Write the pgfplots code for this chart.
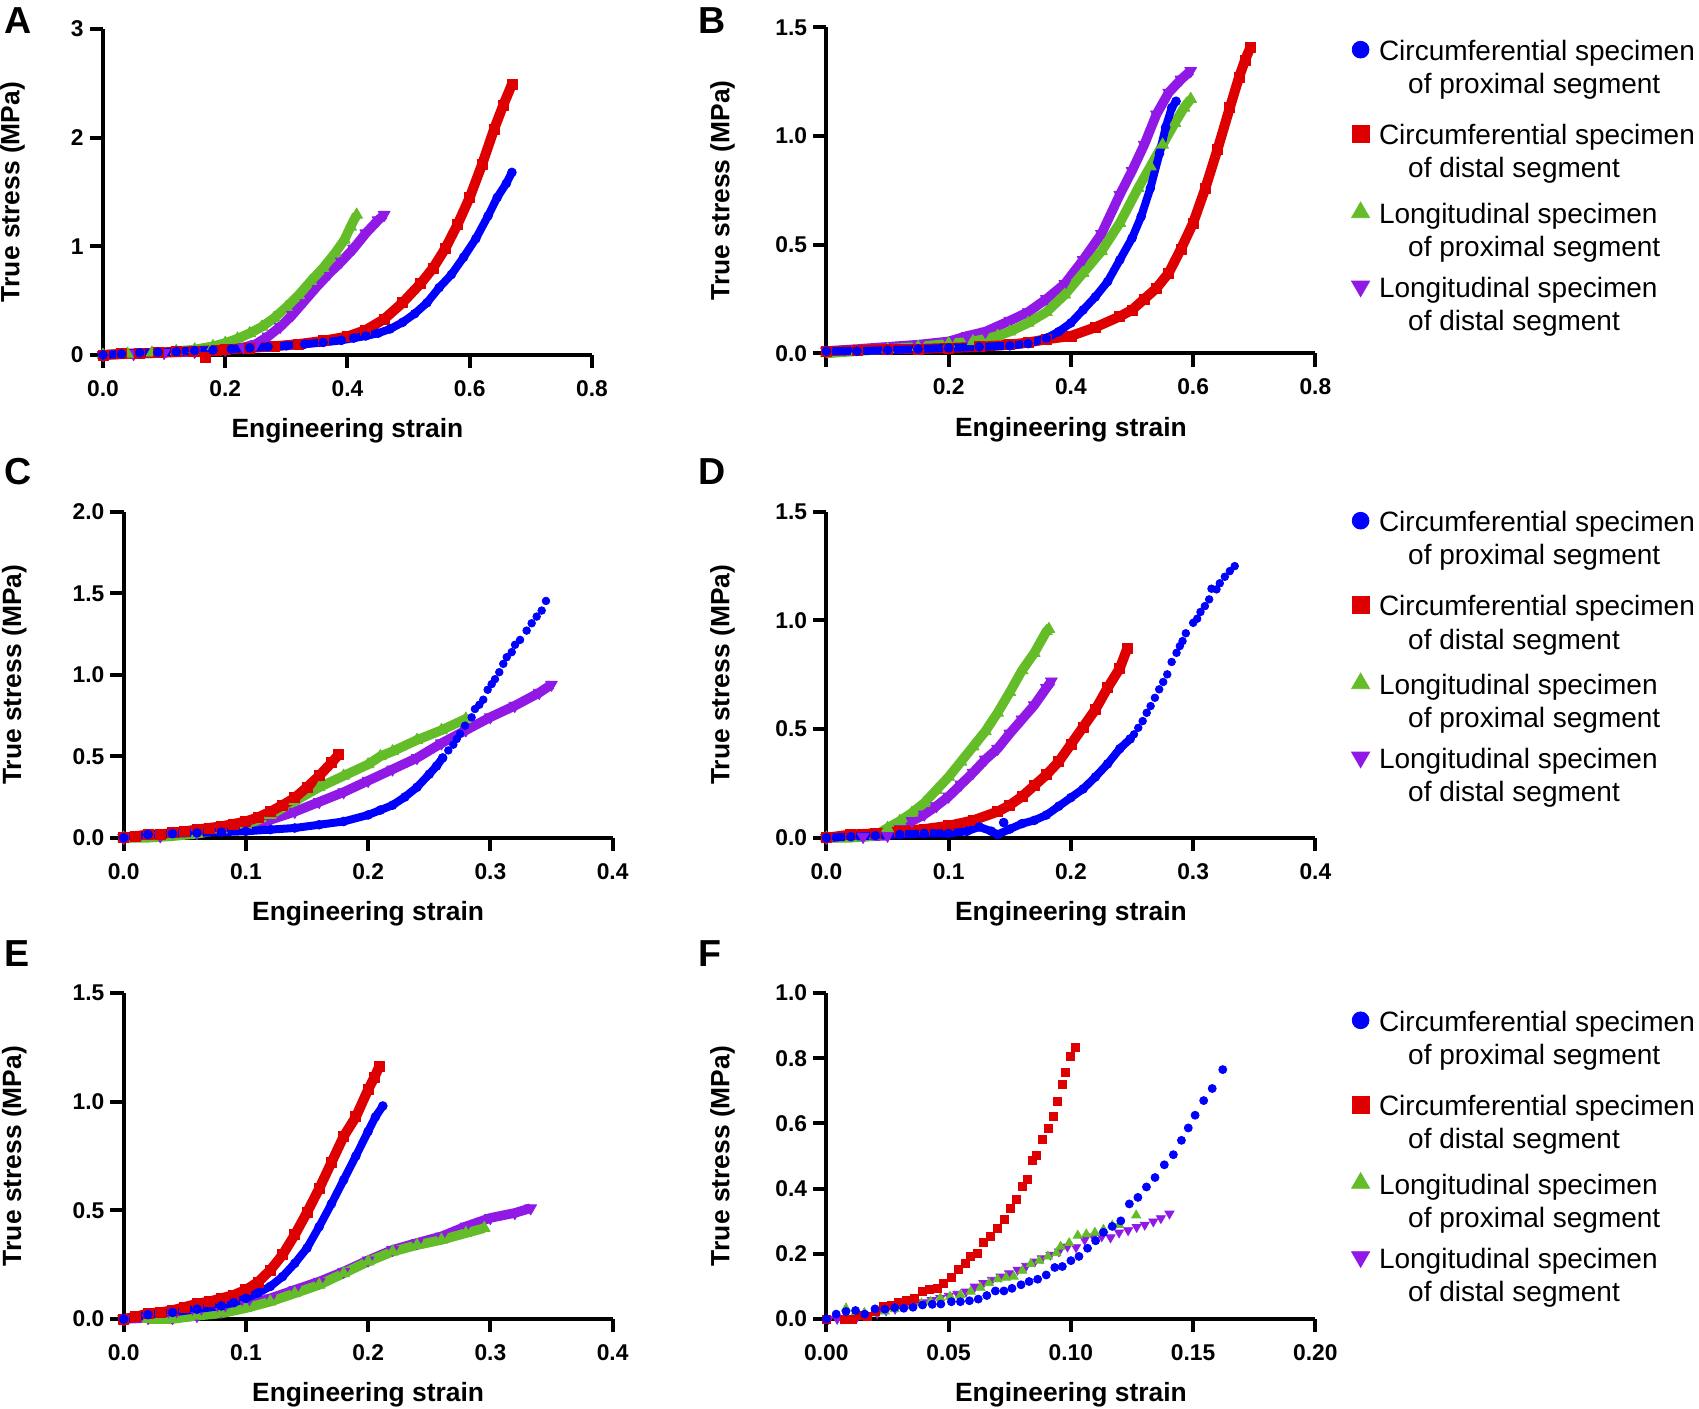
\documentclass[border=0pt]{standalone}
\usepackage{fontspec}
\setmainfont{Liberation Sans}
\usepackage{pgfplots}
\pgfplotsset{compat=1.18}
\definecolor{cblue}{RGB}{0,0,255}
\definecolor{cred}{RGB}{222,0,0}
\definecolor{cgreen}{RGB}{100,188,40}
\definecolor{cpurple}{RGB}{145,25,230}
\newcommand{\tickfont}{\fontsize{5.7}{6.5}\selectfont\bfseries}
\newcommand{\labfont}{\fontsize{6.6}{7.9}\selectfont\bfseries}
\newcommand{\legfont}{\fontsize{7}{8.1}\selectfont}
\newcommand{\letfont}{\fontsize{9.4}{11}\selectfont\bfseries}
\newcommand{\fl}{\rule[-1.1pt]{0pt}{8.1pt}}
\newcommand{\secl}[1]{\rule[-#1]{0pt}{\dimexpr 6.8pt+#1\relax}\hspace*{7.3pt}}
\pgfplotsset{
 panel/.style={scale only axis, width=122.25pt, height=81.5pt, anchor=south west,
   axis lines=left, axis line style={-, line width=1pt, black},
   tick align=outside, major tick length=3.3pt,
   major tick style={line width=1pt, black},
   ticklabel style={font=\tickfont, black},
   xticklabel style={yshift=0.5pt},
   yticklabel style={xshift=2pt},
   xlabel={Engineering strain}, ylabel={True stress (MPa)},
   label style={font=\labfont},
   xlabel style={at={(ticklabel cs:0.5,-1.3pt)}},
   clip=false},
 dblue/.style={color=cblue, line width=2pt, line join=round, mark=*, mark size=1.1pt, mark options={line width=0.2pt}},
 dred/.style={color=cred, line width=2.5pt, line join=round, mark=square*, mark size=1.25pt, mark options={line width=0.2pt}},
 dgreen/.style={color=cgreen, line width=2.4pt, line join=round, mark=triangle*, mark size=1.7pt, mark options={line width=0.2pt}},
 dpurple/.style={color=cpurple, line width=2.4pt, line join=round, mark=triangle*, mark size=1.7pt, mark options={line width=0.2pt, rotate=180}},
 fblue/.style={color=cblue, only marks, mark=*, mark size=1.0pt, mark options={line width=0.2pt}},
 fred/.style={color=cred, only marks, mark=square*, mark size=1.0pt, mark options={line width=0.2pt}},
 fgreen/.style={color=cgreen, only marks, mark=triangle*, mark size=1.3pt, mark options={line width=0.2pt}},
 fpurple/.style={color=cpurple, only marks, mark=triangle*, mark size=1.3pt, mark options={line width=0.2pt, rotate=180}},
 legmark/.style={only marks, mark options={line width=0.2pt}, legend image code/.code={\draw[##1] plot coordinates {(0pt,0pt)};}},
 lblue/.style={legmark, color=cblue, mark=*, mark size=2.1pt},
 lred/.style={legmark, color=cred, mark=square*, mark size=2.1pt},
 lgreen/.style={legmark, color=cgreen, mark=triangle*, mark size=2.6pt},
 lpurple/.style={legmark, color=cpurple, mark=triangle*, mark size=2.6pt, mark options={line width=0.2pt, rotate=180}},
 legpanel/.style={legend cell align=left, legend style={at={(axis description cs:1,1)}, anchor=north west, xshift=9.05pt, yshift=#1, draw=none, fill=none, inner sep=0pt, outer sep=0pt, row sep=0pt, column sep=2.35pt, nodes={inner sep=0pt, outer sep=0pt, text depth=, text height=}, font=\legfont}},
}
\newcommand{\legblock}{%
\addlegendimage{lblue}\addlegendentry{\fl Circumferential specimen}
\addlegendimage{empty legend}\addlegendentry{\secl{5.8pt}of proximal segment}
\addlegendimage{lred}\addlegendentry{\fl Circumferential specimen}
\addlegendimage{empty legend}\addlegendentry{\secl{4.4pt}of distal segment}
\addlegendimage{lgreen}\addlegendentry{\fl Longitudinal specimen}
\addlegendimage{empty legend}\addlegendentry{\secl{3.2pt}of proximal segment}
\addlegendimage{lpurple}\addlegendentry{\fl Longitudinal specimen}
\addlegendimage{empty legend}\addlegendentry{\secl{1.1pt}of distal segment}}
\begin{document}
\begin{tikzpicture}
\useasboundingbox (0pt,0pt) rectangle (424.75pt,352.25pt);
% ---------------- A ----------------
\begin{axis}[panel, at={(25.75pt,263.5pt)}, xmin=0, xmax=0.8, ymin=0, ymax=3,
  xtick={0,0.2,0.4,0.6,0.8}, xticklabels={0.0,0.2,0.4,0.6,0.8},
  ytick={0,1,2,3}, yticklabels={0,1,2,3},
  ylabel style={at={(ticklabel cs:0.5,4.65pt)}}]
\addplot[dpurple] coordinates {(0,0)(0.05,0.01)(0.1,0.02)(0.15,0.03)(0.2,0.05)(0.23,0.07)(0.25,0.1)(0.27,0.17)(0.29,0.26)(0.31,0.37)(0.33,0.5)(0.35,0.63)(0.37,0.75)(0.39,0.86)(0.41,0.98)(0.43,1.12)(0.45,1.24)(0.46,1.29)};
\addplot[dgreen] coordinates {(0,0)(0.04,0.01)(0.08,0.02)(0.12,0.035)(0.15,0.05)(0.18,0.08)(0.2,0.11)(0.22,0.15)(0.24,0.2)(0.26,0.26)(0.28,0.34)(0.3,0.44)(0.32,0.55)(0.34,0.68)(0.36,0.8)(0.38,0.94)(0.395,1.06)(0.405,1.18)(0.415,1.29)};
\addplot[dred] coordinates {(0,0)(0.03,0.01)(0.06,0.015)(0.09,0.02)(0.12,0.03)(0.15,0.035)(0.185,0.045)(0.2,0.05)(0.24,0.065)(0.28,0.08)(0.32,0.1)(0.36,0.13)(0.4,0.17)(0.43,0.23)(0.46,0.33)(0.49,0.48)(0.52,0.66)(0.54,0.8)(0.56,0.98)(0.58,1.2)(0.6,1.45)(0.62,1.75)(0.64,2.08)(0.655,2.3)(0.669,2.49)};
\addplot[fred, mark size=1.25pt] coordinates {(0.168,-0.02)};
\addplot[dblue] coordinates {(0,0)(0.03,0.01)(0.06,0.02)(0.09,0.025)(0.12,0.03)(0.15,0.04)(0.18,0.045)(0.21,0.055)(0.24,0.065)(0.27,0.075)(0.3,0.085)(0.33,0.1)(0.36,0.115)(0.39,0.135)(0.41,0.155)(0.43,0.175)(0.45,0.2)(0.47,0.24)(0.49,0.3)(0.51,0.38)(0.53,0.48)(0.55,0.62)(0.57,0.74)(0.59,0.9)(0.61,1.07)(0.63,1.28)(0.645,1.45)(0.66,1.58)(0.669,1.68)};
\end{axis}
% ---------------- B ----------------
\begin{axis}[panel, legpanel=-1.35pt, at={(206.6pt,263.9pt)}, xmin=0, xmax=0.8, ymin=0, ymax=1.5,
  xtick={0,0.2,0.4,0.6,0.8}, xticklabels={,0.2,0.4,0.6,0.8},
  ytick={0,0.5,1,1.5}, yticklabels={0.0,0.5,1.0,1.5},
  ylabel style={at={(ticklabel cs:0.5,3.25pt)}}]
\legblock
\addplot[dpurple, forget plot] coordinates {(0,0.01)(0.05,0.02)(0.1,0.03)(0.15,0.04)(0.2,0.055)(0.23,0.08)(0.26,0.1)(0.3,0.15)(0.33,0.19)(0.36,0.25)(0.39,0.32)(0.42,0.43)(0.45,0.55)(0.48,0.73)(0.5,0.84)(0.52,0.96)(0.54,1.1)(0.56,1.2)(0.58,1.26)(0.596,1.3)};
\addplot[dgreen, forget plot] coordinates {(0,0)(0.05,0.01)(0.1,0.02)(0.15,0.03)(0.2,0.045)(0.24,0.055)(0.28,0.08)(0.3,0.1)(0.33,0.14)(0.36,0.19)(0.39,0.27)(0.42,0.37)(0.45,0.47)(0.48,0.6)(0.51,0.76)(0.53,0.86)(0.55,0.96)(0.57,1.06)(0.585,1.13)(0.596,1.17)};
\addplot[dred, forget plot] coordinates {(0,0.01)(0.05,0.015)(0.1,0.02)(0.15,0.02)(0.2,0.025)(0.25,0.03)(0.3,0.04)(0.33,0.05)(0.36,0.065)(0.4,0.08)(0.44,0.12)(0.48,0.17)(0.5,0.2)(0.52,0.25)(0.54,0.3)(0.56,0.37)(0.58,0.48)(0.6,0.6)(0.62,0.76)(0.64,0.94)(0.66,1.13)(0.675,1.27)(0.685,1.35)(0.694,1.41)};
\addplot[dblue, forget plot] coordinates {(0,0.01)(0.05,0.01)(0.1,0.015)(0.15,0.02)(0.2,0.025)(0.25,0.03)(0.3,0.035)(0.33,0.045)(0.36,0.07)(0.38,0.1)(0.4,0.14)(0.42,0.2)(0.44,0.26)(0.46,0.33)(0.48,0.43)(0.5,0.53)(0.515,0.63)(0.53,0.76)(0.545,0.92)(0.555,1.04)(0.565,1.13)(0.572,1.16)};
\end{axis}
% ---------------- C ----------------
\begin{axis}[panel, at={(30.9pt,142.8pt)}, xmin=0, xmax=0.4, ymin=0, ymax=2,
  xtick={0,0.1,0.2,0.3,0.4}, xticklabels={0.0,0.1,0.2,0.3,0.4},
  ytick={0,0.5,1,1.5,2}, yticklabels={0.0,0.5,1.0,1.5,2.0},
  ylabel style={at={(ticklabel cs:0.5,4.65pt)}}]
\addplot[dpurple] coordinates {(0,0)(0.03,0.01)(0.06,0.03)(0.08,0.05)(0.1,0.07)(0.12,0.11)(0.14,0.16)(0.16,0.22)(0.18,0.28)(0.2,0.35)(0.22,0.42)(0.24,0.49)(0.26,0.58)(0.28,0.66)(0.3,0.74)(0.32,0.81)(0.34,0.89)(0.35,0.94)};
\addplot[dgreen] coordinates {(0,0)(0.02,0)(0.04,0.01)(0.06,0.025)(0.08,0.05)(0.1,0.08)(0.12,0.14)(0.14,0.225)(0.16,0.31)(0.18,0.38)(0.2,0.45)(0.21,0.5)(0.22,0.53)(0.24,0.6)(0.26,0.66)(0.28,0.73)};
\addplot[dred] coordinates {(0,0)(0.01,0.01)(0.02,0.02)(0.03,0.02)(0.04,0.03)(0.05,0.04)(0.06,0.05)(0.07,0.06)(0.08,0.07)(0.09,0.085)(0.1,0.1)(0.11,0.125)(0.12,0.16)(0.13,0.2)(0.14,0.245)(0.15,0.31)(0.16,0.38)(0.17,0.46)(0.176,0.51)};
\addplot[dblue] coordinates {(0,0)(0.02,0.02)(0.04,0.025)(0.06,0.03)(0.08,0.035)(0.1,0.04)(0.12,0.05)(0.14,0.06)(0.16,0.08)(0.18,0.1)(0.2,0.14)(0.21,0.17)(0.22,0.2)(0.23,0.25)(0.24,0.31)(0.25,0.39)(0.256,0.44)(0.261,0.49)};
\addplot[fblue, mark size=0.95pt] coordinates {(0.2656,0.536)(0.2697,0.571)(0.2725,0.606)(0.2752,0.639)(0.2793,0.688)(0.2847,0.739)(0.2874,0.79)(0.291,0.816)(0.2942,0.847)(0.2978,0.908)(0.3011,0.943)(0.3038,0.973)(0.3073,1.016)(0.3106,1.067)(0.3134,1.108)(0.3175,1.139)(0.3202,1.184)(0.3243,1.214)(0.3297,1.271)(0.3338,1.316)(0.3379,1.357)(0.342,1.394)(0.3455,1.453)};
\end{axis}
% ---------------- D ----------------
\begin{axis}[panel, legpanel=2pt, at={(206.6pt,142.8pt)}, xmin=0, xmax=0.4, ymin=0, ymax=1.5,
  xtick={0,0.1,0.2,0.3,0.4}, xticklabels={0.0,0.1,0.2,0.3,0.4},
  ytick={0,0.5,1,1.5}, yticklabels={0.0,0.5,1.0,1.5},
  ylabel style={at={(ticklabel cs:0.5,3.25pt)}}]
\legblock
\addplot[dpurple, forget plot] coordinates {(0,0)(0.03,0.005)(0.05,0.01)(0.06,0.046)(0.07,0.077)(0.08,0.107)(0.09,0.146)(0.1,0.19)(0.11,0.245)(0.12,0.3)(0.13,0.36)(0.14,0.41)(0.15,0.48)(0.16,0.545)(0.17,0.61)(0.18,0.69)(0.184,0.72)};
\addplot[dgreen, forget plot] coordinates {(0,0)(0.02,0)(0.04,0.01)(0.05,0.045)(0.06,0.077)(0.07,0.115)(0.08,0.16)(0.09,0.22)(0.1,0.28)(0.11,0.35)(0.12,0.42)(0.13,0.49)(0.14,0.575)(0.15,0.67)(0.16,0.77)(0.17,0.85)(0.18,0.95)(0.182,0.96)};
\addplot[dred, forget plot] coordinates {(0,0)(0.02,0.015)(0.04,0.02)(0.06,0.03)(0.08,0.04)(0.1,0.055)(0.12,0.08)(0.14,0.12)(0.15,0.15)(0.16,0.19)(0.17,0.24)(0.18,0.29)(0.19,0.35)(0.2,0.43)(0.21,0.51)(0.22,0.59)(0.23,0.69)(0.24,0.78)(0.246,0.87)};
\addplot[dblue, forget plot] coordinates {(0,0)(0.02,0.005)(0.04,0.01)(0.06,0.015)(0.08,0.02)(0.1,0.02)(0.115,0.03)(0.125,0.05)(0.135,0.03)(0.14,0.015)(0.15,0.04)(0.16,0.065)(0.17,0.08)(0.18,0.105)(0.19,0.145)(0.2,0.185)(0.21,0.225)(0.22,0.28)(0.23,0.34)(0.24,0.41)(0.2485,0.455)};
\addplot[fblue, mark size=1.1pt, forget plot] coordinates {(0.145,0.07)};
\addplot[fblue, mark size=0.95pt, forget plot] coordinates {(0.2516,0.476)(0.2551,0.506)(0.2587,0.537)(0.262,0.575)(0.2652,0.606)(0.2687,0.644)(0.2722,0.683)(0.2755,0.717)(0.2788,0.752)(0.2824,0.809)(0.2864,0.851)(0.2891,0.882)(0.2913,0.905)(0.294,0.941)(0.3,0.989)(0.3033,1.008)(0.306,1.039)(0.3096,1.066)(0.3131,1.097)(0.315,1.146)(0.3191,1.143)(0.3218,1.171)(0.3259,1.201)(0.33,1.227)(0.334,1.25)};
\end{axis}
% ---------------- E ----------------
\begin{axis}[panel, at={(30.9pt,22.5pt)}, xmin=0, xmax=0.4, ymin=0, ymax=1.5,
  xtick={0,0.1,0.2,0.3,0.4}, xticklabels={0.0,0.1,0.2,0.3,0.4},
  ytick={0,0.5,1,1.5}, yticklabels={0.0,0.5,1.0,1.5},
  ylabel style={at={(ticklabel cs:0.5,4.65pt)}}]
\addplot[dpurple] coordinates {(0,0)(0.02,0.005)(0.04,0.005)(0.06,0.015)(0.08,0.034)(0.1,0.065)(0.12,0.095)(0.14,0.134)(0.16,0.172)(0.18,0.218)(0.2,0.27)(0.22,0.318)(0.24,0.35)(0.26,0.38)(0.28,0.426)(0.3,0.465)(0.32,0.488)(0.333,0.51)};
\addplot[dgreen] coordinates {(0.02,0)(0.04,0)(0.06,0.015)(0.08,0.026)(0.1,0.05)(0.12,0.08)(0.14,0.118)(0.16,0.157)(0.18,0.21)(0.2,0.264)(0.22,0.31)(0.24,0.34)(0.26,0.364)(0.28,0.395)(0.295,0.418)};
\addplot[dred] coordinates {(0,0)(0.01,0.01)(0.02,0.026)(0.03,0.03)(0.04,0.04)(0.05,0.055)(0.06,0.07)(0.07,0.08)(0.08,0.095)(0.09,0.11)(0.1,0.134)(0.11,0.17)(0.12,0.225)(0.13,0.295)(0.14,0.387)(0.15,0.49)(0.16,0.6)(0.17,0.72)(0.18,0.84)(0.19,0.93)(0.2,1.055)(0.205,1.11)(0.209,1.16)};
\addplot[dblue] coordinates {(0,0)(0.02,0.02)(0.04,0.03)(0.06,0.045)(0.08,0.06)(0.09,0.075)(0.1,0.095)(0.11,0.12)(0.12,0.15)(0.13,0.195)(0.14,0.256)(0.15,0.326)(0.16,0.425)(0.17,0.53)(0.18,0.64)(0.19,0.75)(0.2,0.863)(0.206,0.93)(0.212,0.98)};
\end{axis}
% ---------------- F ----------------
\begin{axis}[panel, legpanel=-2.6pt, at={(206.6pt,22.5pt)}, xmin=0, xmax=0.2, ymin=0, ymax=1,
  xtick={0,0.05,0.1,0.15,0.2}, xticklabels={0.00,0.05,0.10,0.15,0.20},
  ytick={0,0.2,0.4,0.6,0.8,1}, yticklabels={0.0,0.2,0.4,0.6,0.8,1.0},
  ylabel style={at={(ticklabel cs:0.5,3.25pt)}}]
\legblock
\addplot[fpurple, forget plot] coordinates {(0.0009,0)(0.0044,0)(0.0084,0.002)(0.0126,0.007)(0.0169,0.012)(0.0208,0.017)(0.0244,0.026)(0.0281,0.031)(0.0321,0.038)(0.0361,0.046)(0.0396,0.051)(0.0431,0.058)(0.0466,0.064)(0.0501,0.071)(0.0536,0.077)(0.0571,0.084)(0.0607,0.099)(0.0642,0.110)(0.0677,0.120)(0.0712,0.130)(0.0747,0.140)(0.0782,0.151)(0.0817,0.163)(0.0852,0.176)(0.0881,0.186)(0.0916,0.197)(0.0951,0.207)(0.0986,0.222)(0.1021,0.220)(0.1056,0.243)(0.1091,0.253)(0.1126,0.253)(0.1162,0.250)(0.1197,0.265)(0.1234,0.272)(0.1269,0.282)(0.1302,0.289)(0.1337,0.299)(0.1368,0.309)(0.1403,0.323)};
\addplot[fgreen, forget plot] coordinates {(0.0080,0.033)(0.0115,0.015)(0.0155,0.019)(0.0197,0.017)(0.0239,0.023)(0.0279,0.030)(0.0314,0.038)(0.0351,0.040)(0.0389,0.048)(0.0426,0.053)(0.0466,0.064)(0.0506,0.069)(0.0548,0.074)(0.0590,0.084)(0.0630,0.096)(0.0665,0.110)(0.0700,0.122)(0.0735,0.127)(0.0766,0.130)(0.0801,0.148)(0.0836,0.169)(0.0871,0.179)(0.0906,0.192)(0.0941,0.202)(0.0958,0.222)(0.0993,0.233)(0.1028,0.256)(0.1063,0.260)(0.1098,0.265)(0.1133,0.274)(0.1169,0.287)(0.1197,0.289)(0.1267,0.318)};
\addplot[fred, forget plot] coordinates {(0,0)(0.0075,0)(0.0108,0)(0.0141,0.010)(0.0169,0.007)(0.0201,0.023)(0.0232,0.038)(0.0267,0.041)(0.0295,0.050)(0.0328,0.058)(0.0358,0.064)(0.0391,0.084)(0.0422,0.091)(0.0454,0.094)(0.0478,0.108)(0.0511,0.128)(0.0539,0.151)(0.0567,0.171)(0.0590,0.192)(0.0618,0.200)(0.0644,0.236)(0.0672,0.253)(0.0700,0.279)(0.0726,0.304)(0.0752,0.340)(0.0778,0.368)(0.0801,0.407)(0.0820,0.429)(0.0841,0.487)(0.0859,0.501)(0.0885,0.550)(0.0909,0.586)(0.0927,0.622)(0.0944,0.666)(0.0965,0.719)(0.0979,0.755)(0.0998,0.806)(0.1019,0.832)};
\addplot[fblue, forget plot] coordinates {(0,0)(0.0040,0.015)(0.0080,0.023)(0.0119,0.026)(0.0157,0.015)(0.0199,0.031)(0.0239,0.030)(0.0279,0.035)(0.0316,0.033)(0.0354,0.036)(0.0393,0.043)(0.0433,0.045)(0.0468,0.046)(0.0511,0.053)(0.0548,0.053)(0.0585,0.056)(0.0621,0.061)(0.0656,0.072)(0.0691,0.086)(0.0726,0.086)(0.0759,0.094)(0.0796,0.105)(0.0829,0.115)(0.0864,0.122)(0.0899,0.135)(0.0934,0.158)(0.0965,0.161)(0.1000,0.179)(0.1033,0.192)(0.1068,0.217)(0.1101,0.240)(0.1133,0.266)(0.1169,0.284)(0.1204,0.301)(0.1239,0.353)(0.1274,0.373)(0.1309,0.405)(0.1344,0.434)(0.1382,0.473)(0.1419,0.504)(0.1452,0.548)(0.1480,0.586)(0.1508,0.625)(0.1543,0.670)(0.1578,0.707)(0.1621,0.765)};
\end{axis}
% panel letters
\node[anchor=base west, inner sep=0pt, font=\letfont] at (0.9pt,343.95pt) {A};
\node[anchor=base west, inner sep=0pt, font=\letfont] at (174.3pt,343.95pt) {B};
\node[anchor=base west, inner sep=0pt, font=\letfont] at (0.9pt,231.1pt) {C};
\node[anchor=base west, inner sep=0pt, font=\letfont] at (174.3pt,231.1pt) {D};
\node[anchor=base west, inner sep=0pt, font=\letfont] at (0.9pt,110.5pt) {E};
\node[anchor=base west, inner sep=0pt, font=\letfont] at (174.3pt,110.5pt) {F};
\end{tikzpicture}
\end{document}
